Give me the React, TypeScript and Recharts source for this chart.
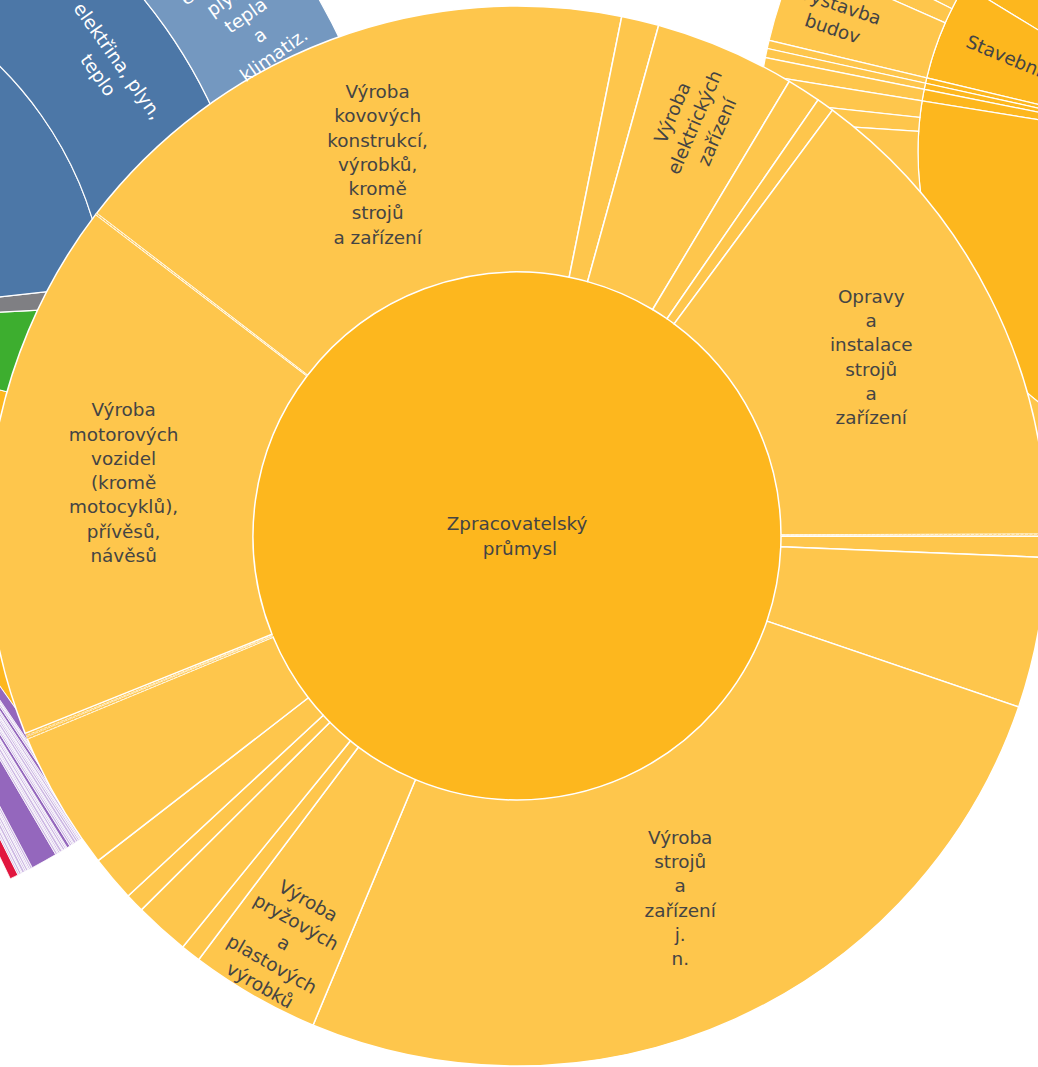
import React from 'react';
import { PieChart, Pie, Cell } from 'recharts';

// ---------------- DATA ----------------
// Main (magnified) section: Zpracovatelský průmysl
const mainSectionNames = ['Zpracovatelský průmysl'];
const mainSectionValues = [100];

// divisions, clockwise from the top-left boundary (share of section, %)
const divisionNames = [
  'Výroba kovových konstrukcí, výrobků, kromě strojů a zařízení',
  'Výroba nábytku',
  'Výroba elektrických zařízení',
  'Výroba ostatních dopravních prostředků',
  'Výroba základních kovů',
  'Opravy a instalace strojů a zařízení',
  'Výroba tabákových výrobků',
  'Ostatní zpracovatelský průmysl',
  'Výroba počítačů, elektronických a optických přístrojů',
  'Výroba strojů a zařízení j. n.',
  'Výroba pryžových a plastových výrobků',
  'Výroba chemických látek a přípravků',
  'Výroba ostatních nekovových minerálních výrobků',
  'Výroba papíru a výrobků z papíru',
  'Zpracování dřeva, výroba dřevěných výrobků',
  'Výroba potravinářských výrobků',
  'Výroba nápojů',
  'Výroba textilií',
  'Výroba oděvů',
  'Výroba motorových vozidel (kromě motocyklů), přívěsů, návěsů',
  'Výroba usní a souvisejících výrobků',
];
const divisionValues = [
  17.75, 1.14, 4.28, 1.03, 0.53, 14.8, 0.06, 0.64, 4.58, 26.06, 3.97, 0.61, 1.67, 0.58, 1.39,
  4.24, 0.07, 0.04, 0.07, 16.45, 0.04,
];
const tinyDivisionLimit = 0.1;

// Background sunburst (left): sections and their children
const bgLeftSectionNames = ['Ostatní činnosti', 'Veřejná správa a služby', 'Zpracovatelský průmysl ', 'Zemědělství, lesnictví', 'Těžba a dobývání', 'Energetika'];
const bgLeftSectionValues = [15, 10.2, 40.5, 17.2, 3.4, 58];
const bgLeftMidNames = ['Zpracovatelský průmysl – obory', 'Zemědělství – obory', 'Těžba – obory', 'elektřina, plyn, teplo'];
const bgLeftMidValues = [40.5, 17.2, 3.4, 58];
const bgLeftOuterNames = ['Výroba a rozvod elektřiny, plynu, tepla a klimatiz.'];
const bgLeftOuterValues = [58];
// lower-left: red + purple fine subdivisions
const bgLowerNames = ['(bez údajů)', 'Činnosti domácností'];
const bgLowerValues = [15.6, 0.8];
const purpleChildValues = [
  0.15, 0.2, 0.1, 0.25, 0.15, 0.2, 0.1, 0.15, 0.2,
  2.5,
  0.2, 0.1, 0.15, 0.25, 0.1, 0.2, 0.15, 0.1, 0.3, 0.2, 0.15, 0.1, 0.25, 0.2, 0.15, 0.1, 0.2, 0.15, 0.3, 0.2, 0.1, 0.15,
  1.0,
];

// Background sunburst (right): Stavebnictví
const bgRightSectionNames = ['Obchod', 'Stavebnictví', 'Doprava', 'Ubytování', 'Informační činnosti', 'Zpracovatelský průmysl  '];
const bgRightSectionValues = [18.6, 18.0, 1.0, 1.1, 2.1, 74.2];
const bgRightChildNames = ['Obchod – obory', 'Specializované stavební činnosti', 'Inženýrské stavitelství', 'Výstavba budov', 'Doprava – obory', 'Ubytování – obory', 'Informační – obory', 'Z1', 'Z2', 'Z3'];
const bgRightChildValues = [18.6, 4.8, 2.8, 10.4, 1.0, 1.1, 2.1, 3.0, 2.5, 68.7];

// ---------------- LABEL TEXT ----------------
type LabelCfg = { lines: string[]; rFrac: number; mode: 'h' | 'radial' | 'tangential'; fill?: string };

const mainCenterLabels: Record<string, LabelCfg> = {
  'Zpracovatelský průmysl': { lines: ['Zpracovatelský', '\u00a0průmysl'], rFrac: 0, mode: 'h' },
};
const divisionLabels: Record<string, LabelCfg> = {
  'Výroba kovových konstrukcí, výrobků, kromě strojů a zařízení': { lines: ['Výroba', 'kovových', 'konstrukcí,', 'výrobků,', 'kromě', 'strojů', 'a zařízení'], rFrac: 0.5, mode: 'h' },
  'Výroba elektrických zařízení': { lines: ['Výroba', 'elektrických', 'zařízení'], rFrac: 0.7, mode: 'radial' },
  'Opravy a instalace strojů a zařízení': { lines: ['Opravy', 'a', 'instalace', 'strojů', 'a', 'zařízení'], rFrac: 0.5, mode: 'h' },
  'Výroba strojů a zařízení j. n.': { lines: ['Výroba', 'strojů', 'a', 'zařízení', 'j.', 'n.'], rFrac: 0.5, mode: 'h' },
  'Výroba pryžových a plastových výrobků': { lines: ['Výroba', 'pryžových', 'a', 'plastových', 'výrobků'], rFrac: 0.77, mode: 'tangential' },
  'Výroba motorových vozidel (kromě motocyklů), přívěsů, návěsů': { lines: ['Výroba', 'motorových', 'vozidel', '(kromě', 'motocyklů),', 'přívěsů,', 'návěsů'], rFrac: 0.5, mode: 'h' },
};
const bgLeftLabels: Record<string, LabelCfg> = {
  'elektřina, plyn, teplo': { lines: ['elektřina, plyn,', 'teplo'], rFrac: 0.54, mode: 'tangential', fill: '#ffffff' },
  'Výroba a rozvod elektřiny, plynu, tepla a klimatiz.': { lines: ['Výroba', 'a', 'rozvod', 'elektřiny,', 'plynu,', 'tepla', 'a', 'klimatiz.'], rFrac: 0.5, mode: 'radial', fill: '#ffffff' },
};
const bgRightLabels: Record<string, LabelCfg> = {
  'Stavebnictví': { lines: ['Stavebnictví'], rFrac: 0.737, mode: 'radial' },
  'Výstavba budov': { lines: ['Výstavba', 'budov'], rFrac: 0.64, mode: 'radial' },
};

// ---------------- STYLES ----------------
const C = {
  center: '#FDB71E',
  ring: '#FEC64C',
  blueDark: '#4C77A7',
  blueLight: '#7498C0',
  gray: '#7F7F83',
  green: '#3DAE2F',
  purple: '#9467BD',
  lavender: '#CDB8E3',
  red: '#E1163F',
  text: '#444444',
};
const bgLeftSectionColors = [C.red, C.purple, C.center, C.green, C.gray, C.blueDark];
const bgLeftMidColors = [C.center, C.green, C.gray, C.blueDark];
const FONT = 'DejaVu Sans, Verdana, sans-serif';
const FS = 18.4;
const LH = 24.3;

const norm = (a: number) => {
  let r = ((a % 360) + 360) % 360;
  if (r > 180) r -= 360;
  if (r > 90) r -= 180;
  else if (r <= -90) r += 180;
  return r;
};

const makeLabel = (cfgs: Record<string, LabelCfg>) => (p: any) => {
  const cfg = cfgs[p.name];
  if (!cfg) return null;
  const r = p.innerRadius + (p.outerRadius - p.innerRadius) * cfg.rFrac;
  const a = (-p.midAngle * Math.PI) / 180;
  const x = p.cx + r * Math.cos(a);
  const y = p.cy + r * Math.sin(a);
  const rot = cfg.mode === 'radial' ? norm(-p.midAngle) : cfg.mode === 'tangential' ? norm(90 - p.midAngle) : 0;
  const y0 = -((cfg.lines.length - 1) * LH) / 2;
  return (
    <g transform={`translate(${x},${y}) rotate(${rot})`} key={`lbl-${p.name}`}>
      <text textAnchor="middle" fontFamily={FONT} fontSize={FS} fill={cfg.fill || C.text}>
        {cfg.lines.map((l, i) => (
          <tspan key={i} x={0} y={y0 + i * LH} dy="0.36em">
            {l}
          </tspan>
        ))}
      </text>
    </g>
  );
};

const toData = (names: string[], values: number[]) => names.map((name, i) => ({ name, value: values[i] }));

const mainCenterData = toData(mainSectionNames, mainSectionValues);
const divisionData = toData(divisionNames, divisionValues);
const bgLeftSectionData = toData(bgLeftSectionNames, bgLeftSectionValues);
const bgLeftMidData = toData(bgLeftMidNames, bgLeftMidValues);
const bgLeftOuterData = toData(bgLeftOuterNames, bgLeftOuterValues);
const bgLowerData = [
  ...toData(bgLowerNames, bgLowerValues),
  ...purpleChildValues.map((v, i) => ({ name: `Služby ${i + 1}`, value: v })),
];
const bgRightSectionData = toData(bgRightSectionNames, bgRightSectionValues);
const bgRightChildData = toData(bgRightChildNames, bgRightChildValues);

export default function App() {
  return (
    <div style={{ position: 'absolute', left: 0, top: 0, width: 1038, height: 1067, overflow: 'hidden', background: '#fff' }}>
      <style>{'body{margin:0;overflow:hidden}'}</style>
      <PieChart width={1038} height={1067} margin={{ top: 0, right: 0, bottom: 0, left: 0 }}>
        {/* left background sunburst */}
        <Pie data={bgLeftSectionData} dataKey="value" nameKey="name" cx={-255} cy={325} innerRadius={0} outerRadius={363}
          startAngle={-80} endAngle={64.3} isAnimationActive={false} stroke="#fff" strokeWidth={1.2}>
          {bgLeftSectionData.map((d, i) => <Cell key={i} fill={bgLeftSectionColors[i]} stroke="#fff" strokeWidth={1.2} />)}
        </Pie>
        <Pie data={bgLeftMidData} dataKey="value" nameKey="name" cx={-255} cy={325} innerRadius={363} outerRadius={515}
          startAngle={-54.8} endAngle={64.3} isAnimationActive={false} label={makeLabel(bgLeftLabels)} labelLine={false}>
          {bgLeftMidData.map((d, i) => <Cell key={i} fill={bgLeftMidColors[i]} stroke="#fff" strokeWidth={1.2} />)}
        </Pie>
        <Pie data={bgLeftOuterData} dataKey="value" nameKey="name" cx={-255} cy={325} innerRadius={515} outerRadius={660}
          startAngle={6.3} endAngle={64.3} isAnimationActive={false} label={makeLabel(bgLeftLabels)} labelLine={false}>
          {bgLeftOuterData.map((d, i) => <Cell key={i} fill={C.blueLight} stroke="#fff" strokeWidth={1.2} />)}
        </Pie>
        <Pie data={bgLowerData} dataKey="value" nameKey="name" cx={-255} cy={325} innerRadius={363} outerRadius={614}
          startAngle={-80} endAngle={-54.8} isAnimationActive={false}>
          {bgLowerData.map((d, i) => (
            <Cell key={i}
              fill={i === 0 ? 'transparent' : i === 1 ? C.red : d.value < 0.3 ? C.lavender : C.purple}
              stroke={i === 0 ? 'none' : '#fff'} strokeWidth={0.8} />
          ))}
        </Pie>

        {/* right background sunburst (Stavebnictví) */}
        <Pie data={bgRightSectionData} dataKey="value" nameKey="name" cx={1238} cy={152} innerRadius={0} outerRadius={320}
          startAngle={130} endAngle={245} isAnimationActive={false} label={makeLabel(bgRightLabels)} labelLine={false}>
          {bgRightSectionData.map((d, i) => <Cell key={i} fill={C.center} stroke="#fff" strokeWidth={1.2} />)}
        </Pie>
        <Pie data={bgRightChildData} dataKey="value" nameKey="name" cx={1238} cy={152} innerRadius={320} outerRadius={482}
          startAngle={130} endAngle={245} isAnimationActive={false} label={makeLabel(bgRightLabels)} labelLine={false}>
          {bgRightChildData.map((d, i) => <Cell key={i} fill={C.ring} stroke="#fff" strokeWidth={1.2} />)}
        </Pie>

        {/* main magnified section: centre disk first, then divisions ring (its inner edge stroke outlines the disk) */}
        <Pie data={mainCenterData} dataKey="value" nameKey="name" cx={517} cy={536} innerRadius={0} outerRadius={264}
          startAngle={90} endAngle={-270} isAnimationActive={false} label={makeLabel(mainCenterLabels)} labelLine={false}>
          {mainCenterData.map((d, i) => <Cell key={i} fill={C.center} stroke="none" />)}
        </Pie>
        <Pie data={divisionData} dataKey="value" nameKey="name" cx={517} cy={536} innerRadius={264} outerRadius={530}
          startAngle={142.5} endAngle={-217.5} isAnimationActive={false} label={makeLabel(divisionLabels)} labelLine={false}>
          {divisionData.map((d, i) => (
            <Cell key={i} fill={C.ring} stroke="#fff" strokeWidth={d.value < tinyDivisionLimit ? 0.6 : 1.5}
              strokeDasharray={d.value < tinyDivisionLimit ? '3 1.5' : undefined} />
          ))}
        </Pie>
      </PieChart>
    </div>
  );
}
